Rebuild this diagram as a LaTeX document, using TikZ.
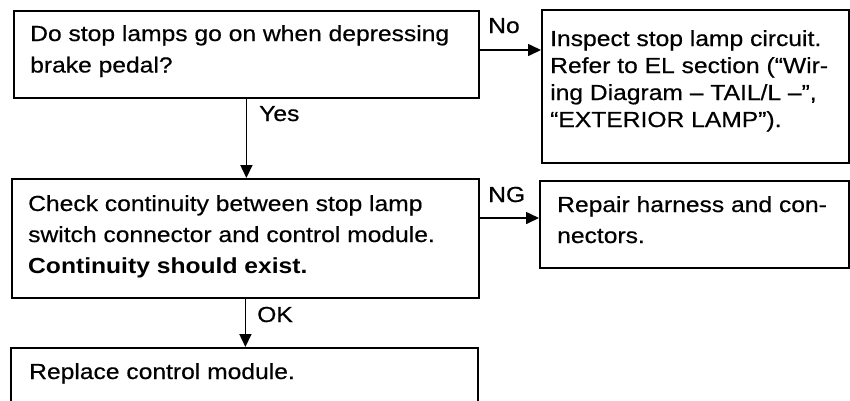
\documentclass[tikz,border=0pt]{standalone}
\usepackage{fontspec}
\setmainfont{Liberation Sans}[FakeStretch=1.13, UprightFeatures={FakeBold=0.5}]
\usetikzlibrary{arrows.meta,calc}
\begin{document}
\begin{tikzpicture}[x=1pt,y=-1pt,
  box/.style={draw, line width=1.8pt, inner sep=0pt, anchor=north west},
  txt/.style={inner sep=0pt, anchor=north west, align=left, font=\fontsize{21.8}{31.5}\selectfont},
  txtb/.style={inner sep=0pt, anchor=north west, align=left, font=\fontsize{21.8}{27}\selectfont},
  lbl/.style={inner sep=0pt, anchor=base west, font=\fontsize{21.8}{26}\selectfont},
  arr/.style={line width=1.6pt, -{Triangle[length=13pt,width=12pt]}}]
\useasboundingbox (0,0) rectangle (850,400);
\clip (0,0) rectangle (850,400);
% boxes
\node[box, minimum width=465pt, minimum height=87pt] (b1) at (13,10) {};
\node[box, minimum width=307pt, minimum height=153pt] (b2) at (541,9) {};
\node[box, minimum width=467pt, minimum height=119pt] (b3) at (11,178) {};
\node[box, minimum width=309pt, minimum height=87pt] (b4) at (539,180) {};
\node[box, minimum width=467pt, minimum height=70pt] (b5) at (10,347) {};
% texts
\node[txt] (t1) at (30,25) {Do stop lamps go on when depressing\\brake pedal?};
\node[txtb] (t2) at (550,30) {Inspect stop lamp circuit.\\Refer to EL section (“Wir-\\ing Diagram – TAIL/L –”,\\“EXTERIOR LAMP”).};
\node[txt, font=\fontsize{21.8}{31}\selectfont] (t3) at (28,195) {Check continuity between stop lamp\\switch connector and control module.\\\textbf{Continuity should exist.}};
\node[txt, font=\fontsize{21.8}{31}\selectfont] (t4) at (557,196) {Repair harness and con-\\nectors.};
\node[txt] (t5) at (29,363) {Replace control module.};
% connectors
\coordinate (ny) at (0,50);
\coordinate (gy) at (0,218);
\draw[arr] (b1.east |- ny) -- (b2.west |- ny);
\draw[arr] (b1.south) -- (b1.south |- b3.north);
\draw[arr] (b3.east |- gy) -- (b4.west |- gy);
\draw[arr] (b3.south) -- (b3.south |- b5.north);
% labels
\node[lbl] (lno) at (488,33) {No};
\node[lbl] (lyes) at (259,121) {Yes};
\node[lbl] (lng) at (488,202) {NG};
\node[lbl] (lok) at (257,322) {OK};
\end{tikzpicture}
\end{document}
